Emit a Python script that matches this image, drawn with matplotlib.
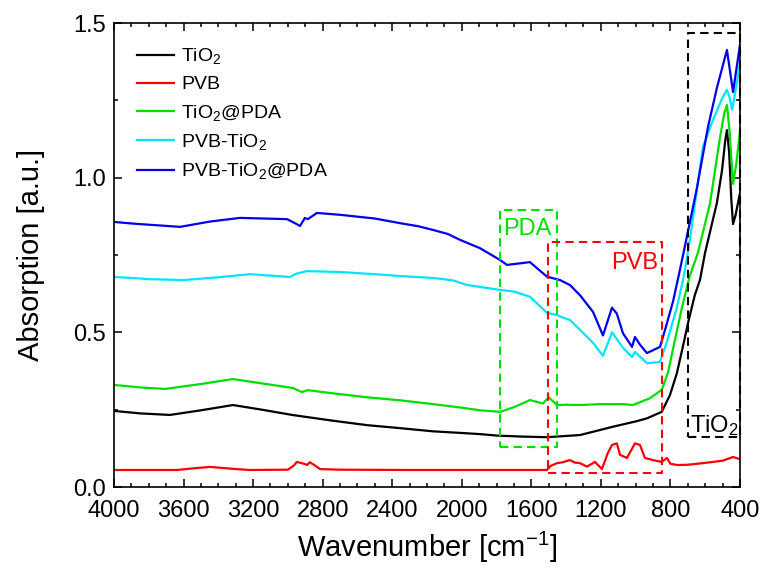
import matplotlib
matplotlib.use("Agg")
import matplotlib.pyplot as plt
from matplotlib.ticker import MultipleLocator, FormatStrFormatter

plt.rcParams['font.family'] = ['Liberation Sans', 'DejaVu Sans']
plt.rcParams['mathtext.default'] = 'regular'

# FTIR absorption spectra, wavenumber in cm^-1 (x axis reversed)
wn_tio2 = [4000, 3850, 3678, 3500, 3316, 3150, 2976, 2750, 2545, 2350, 2165, 1980,
           1895, 1792, 1650, 1510, 1320, 1130, 1000, 935, 850, 803, 763, 730, 699, 660, 630,
           601, 533, 503, 485, 475, 462, 450, 440, 425, 411, 400]
abs_tio2 = [0.246, 0.238, 0.233, 0.248, 0.265, 0.25, 0.233, 0.215, 0.200, 0.190, 0.180, 0.174,
            0.171, 0.166, 0.163, 0.161, 0.168, 0.195, 0.212, 0.222, 0.243, 0.297, 0.368, 0.450, 0.530, 0.620, 0.670,
            0.757, 0.918, 1.025, 1.12, 1.154, 1.08, 0.93, 0.85, 0.88, 0.92, 0.95]

wn_pvb = [4000, 3638, 3550, 3448, 3300, 3218, 3000, 2965, 2948, 2900, 2890, 2873, 2840, 2815,
          2700, 2300, 1900, 1510, 1490, 1453, 1420, 1378, 1350, 1320, 1280, 1234, 1194,
          1160, 1136, 1108, 1090, 1050, 1004, 975, 947, 900, 850, 820, 800, 760, 700,
          600, 500, 440, 400]
abs_pvb = [0.055, 0.055, 0.060, 0.065, 0.058, 0.055, 0.056, 0.070, 0.081, 0.074, 0.071, 0.080, 0.068, 0.058,
           0.056, 0.055, 0.055, 0.055, 0.068, 0.077, 0.080, 0.087, 0.079, 0.077, 0.066, 0.081, 0.058,
           0.110, 0.136, 0.141, 0.104, 0.094, 0.141, 0.136, 0.094, 0.087, 0.081, 0.094, 0.075, 0.071, 0.072,
           0.078, 0.085, 0.097, 0.090]

wn_tio2_pda = [4000, 3850, 3707, 3500, 3316, 3150, 2970, 2920, 2885, 2700, 2545, 2350, 2165,
               1980, 1895, 1780, 1700, 1608, 1533, 1500, 1453, 1400, 1320, 1200, 1073, 1016,
               918, 850, 814, 780, 734, 690, 642, 572, 515, 490, 475, 460, 440, 420, 400]
abs_tio2_pda = [0.330, 0.322, 0.317, 0.333, 0.349, 0.335, 0.320, 0.307, 0.313, 0.300, 0.290, 0.280, 0.268,
                0.255, 0.248, 0.243, 0.258, 0.281, 0.270, 0.290, 0.265, 0.266, 0.265, 0.268, 0.268, 0.265,
                0.287, 0.314, 0.370, 0.460, 0.580, 0.680, 0.757, 0.918, 1.13, 1.21, 1.235, 1.15, 0.98, 1.05, 1.15]

wn_pvb_tio2 = [4000, 3900, 3800, 3603, 3400, 3218, 2988, 2950, 2890, 2700, 2500, 2355, 2165,
               2050, 1970, 1895, 1780, 1700, 1608, 1510, 1452, 1420, 1378, 1320, 1245, 1188,
               1136, 1073, 1021, 1004, 935, 860, 820, 763, 720, 688, 613, 555, 500, 475, 460, 445,
               420, 400]
abs_pvb_tio2 = [0.679, 0.676, 0.672, 0.669, 0.678, 0.688, 0.679, 0.690, 0.698, 0.695, 0.688, 0.682, 0.676,
                0.668, 0.653, 0.647, 0.637, 0.632, 0.615, 0.563, 0.556, 0.548, 0.540, 0.508, 0.466, 0.424,
                0.500, 0.450, 0.420, 0.437, 0.400, 0.404, 0.470, 0.580, 0.690, 0.800, 1.100, 1.187, 1.26, 1.284, 1.26, 1.22,
                1.30, 1.37]

wn_pvb_tio2_pda = [4000, 3900, 3800, 3620, 3450, 3276, 3005, 2960, 2930, 2902, 2885, 2833, 2700,
                   2500, 2355, 2250, 2165, 2080, 2010, 1895, 1780, 1740, 1608, 1510, 1435, 1378,
                   1320, 1245, 1188, 1136, 1108, 1073, 1021, 1004, 975, 935, 860, 830, 785, 750, 720, 650, 584,
                   533, 475, 440, 400]
abs_pvb_tio2_pda = [0.857, 0.852, 0.848, 0.841, 0.858, 0.870, 0.866, 0.853, 0.844, 0.870, 0.866, 0.886, 0.880,
                    0.868, 0.853, 0.843, 0.831, 0.818, 0.799, 0.772, 0.734, 0.718, 0.727, 0.680, 0.669, 0.653,
                    0.620, 0.566, 0.490, 0.580, 0.560, 0.497, 0.453, 0.485, 0.460, 0.433, 0.453, 0.510, 0.600, 0.690, 0.770, 0.960, 1.164,
                    1.290, 1.413, 1.277, 1.43]

series = [
    (wn_tio2, abs_tio2, 'TiO$_2$', 'black'),
    (wn_pvb, abs_pvb, 'PVB', '#ff0000'),
    (wn_tio2_pda, abs_tio2_pda, 'TiO$_2$@PDA', '#00e000'),
    (wn_pvb_tio2, abs_pvb_tio2, 'PVB-TiO$_2$', '#00e5ff'),
    (wn_pvb_tio2_pda, abs_pvb_tio2_pda, 'PVB-TiO$_2$@PDA', '#0000ee'),
]

# dashed boxes marking the bands: (x0, x1, y0, y1, colour)
boxes = [
    (1780, 1453, 0.129, 0.895, '#00e000'),
    (1504, 850, 0.045, 0.792, '#ff0000'),
    (699, 400, 0.162, 1.468, 'black'),
]

fig = plt.figure(figsize=(7.61, 5.70), dpi=100)
ax = fig.add_axes([0.1498, 0.1456, 0.8226, 0.814])

for x, y, name, c in series:
    ax.plot(x, y, color=c, lw=1.6, label=name)

for x0, x1, y0, y1, c in boxes:
    ax.plot([x0, x1, x1, x0, x0], [y0, y0, y1, y1, y0], color=c, lw=1.5,
            ls=(0, (4, 2.5)), clip_on=False)

ax.text(1765, 0.835, 'PDA', color='#00e000', fontsize=17, va='center', ha='left')
ax.text(873, 0.725, 'PVB', color='#ff0000', fontsize=17, va='center', ha='right')
ax.text(687, 0.20, 'TiO$_2$', color='black', fontsize=17, va='center', ha='left')

ax.set_xlim(4000, 400)
ax.set_ylim(0, 1.5)
ax.xaxis.set_major_locator(MultipleLocator(400))
ax.xaxis.set_minor_locator(MultipleLocator(100))
ax.yaxis.set_major_locator(MultipleLocator(0.5))
ax.yaxis.set_minor_locator(MultipleLocator(0.25))
ax.yaxis.set_major_formatter(FormatStrFormatter('%.1f'))
ax.tick_params(which='both', direction='in', top=True, right=True, width=1.1,
               labelsize=17)
ax.tick_params(which='major', length=6)
ax.tick_params(which='minor', length=3)
ax.tick_params(axis='x', pad=9)
ax.tick_params(axis='y', pad=6)
for s in ax.spines.values():
    s.set_linewidth(1.2)

ax.set_xlabel('Wavenumber [cm$^{-1}$]', fontsize=21, labelpad=6)
ax.set_ylabel('Absorption [a.u.]', fontsize=21, labelpad=20)

ax.legend(loc='upper left', frameon=False, fontsize=14, handlelength=1.9,
          handletextpad=0.35, labelspacing=0.48, borderaxespad=0.5,
          borderpad=0.7)

fig.savefig('out.png', dpi=100)
